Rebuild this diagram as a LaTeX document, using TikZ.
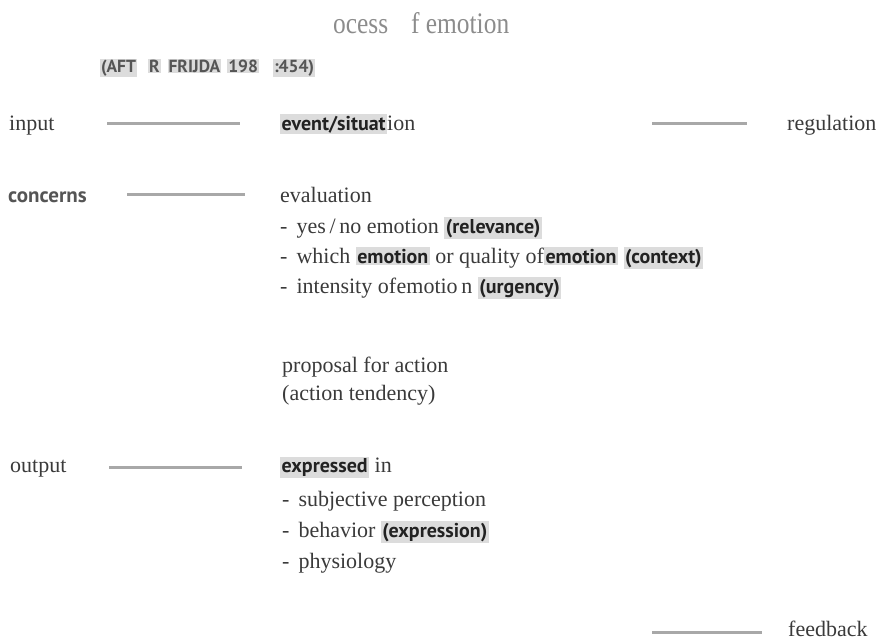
\documentclass[tikz,border=0pt]{standalone}
\usepackage{fontspec}
\setmainfont{Liberation Serif}
\newfontfamily\sansfam{PT Sans}
\definecolor{txt}{HTML}{3A3A3A}
\definecolor{ttl}{HTML}{8C8C8C}
\definecolor{linegray}{HTML}{A8A8A8}
\definecolor{hl}{HTML}{DCDCDC}
\definecolor{sanstxt}{HTML}{222222}
\definecolor{srctxt}{HTML}{555555}
\newcommand\hb[1]{{\setlength{\fboxsep}{1.5pt}\colorbox{hl}{\sansfam\bfseries\fontsize{20}{24}\selectfont\color{sanstxt}#1}}}
\newcommand\hs[1]{{\setlength{\fboxsep}{1pt}\colorbox{hl}{#1}}}
\tikzset{
  lbl/.style={anchor=base west, inner sep=0pt, text=txt, font=\fontsize{22}{26}\selectfont},
  conn/.style={draw=linegray, line width=3pt},
}
\begin{document}
\begin{tikzpicture}[x=1pt,y=-1pt]
\useasboundingbox (0,0) rectangle (879,640);
% title
\node[anchor=base west, inner sep=0pt, text=ttl] (title) at (333,33)
  {\resizebox{176pt}{21pt}{ocess\hspace{0.9em}f emotion}};
\node[anchor=base west, inner sep=0pt, text=srctxt, font=\sansfam\bfseries\fontsize{17.5}{20}\selectfont] (src) at (100,72)
  {\hs{(AFT}\hspace{11pt}\hs{R}\hspace{7pt}\hs{FRIJDA}\hspace{6pt}\hs{198}\hspace{14pt}\hs{:454)}};
% row 1
\node[lbl] (input) at (9,130) {input};
\node[lbl] (event) at (280,130) {\hb{event/situat}ion};
\node[lbl] (regulation) at (787,130) {regulation};
\coordinate (c1a) at (107,123); \coordinate (c1b) at (240,123);
\coordinate (c2a) at (652,123); \coordinate (c2b) at (747,123);
\draw[conn] (c1a) -- (c1b);
\draw[conn] (c2a) -- (c2b);
% row 2
\node[lbl, font=\sansfam\bfseries\fontsize{21}{25}\selectfont, text=srctxt] (concerns) at (8,202) {concerns};
\coordinate (c3a) at (127,194); \coordinate (c3b) at (245,194);
\draw[conn] (c3a) -- (c3b);
\node[lbl] (evaluation) at (280,202) {evaluation};
\node[lbl] (e1) at (280,233) {-\hspace{9pt}yes\,/\,no emotion \hb{(relevance)}};
\node[lbl] (e2) at (280,263) {-\hspace{9pt}which \hb{emotion} or quality of\hb{emotion} \hb{(context)}};
\node[lbl] (e3) at (280,293) {-\hspace{9pt}intensity of\hspace{0.5pt}emotio\,n \hb{(urgency)}};
\node[lbl] (p1) at (282,372) {proposal for action};
\node[lbl] (p2) at (282,400) {(action tendency)};
% output
\node[lbl] (output) at (10,472) {output};
\coordinate (c4a) at (109,467); \coordinate (c4b) at (242,467);
\draw[conn] (c4a) -- (c4b);
\node[lbl] (x0) at (280,472) {\hb{expressed} in};
\node[lbl] (x1) at (282,506) {-\hspace{9pt}subjective perception};
\node[lbl] (x2) at (282,537) {-\hspace{9pt}behavior \hb{(expression)}};
\node[lbl] (x3) at (282,568) {-\hspace{9pt}physiology};
% feedback
\coordinate (c5a) at (652,632); \coordinate (c5b) at (762,632);
\draw[conn] (c5a) -- (c5b);
\node[lbl] (feedback) at (788,636) {feedback};
\end{tikzpicture}
\end{document}
